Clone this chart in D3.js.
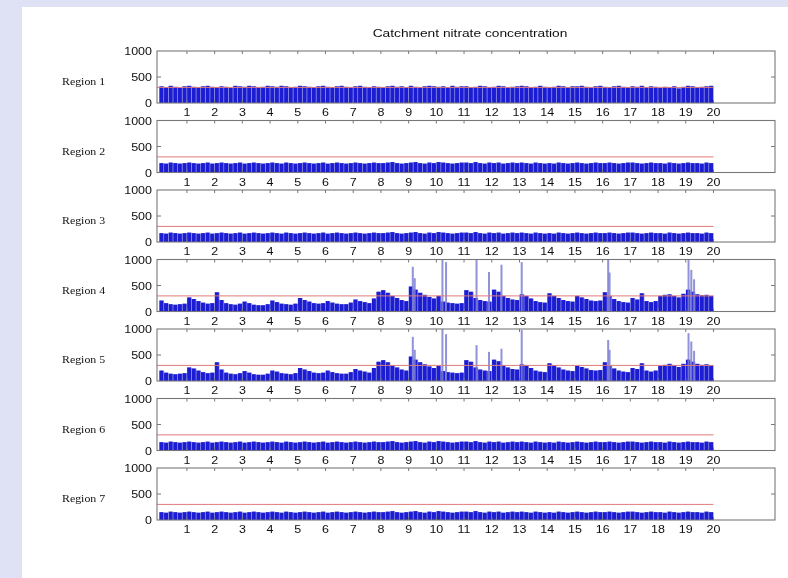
<!DOCTYPE html>
<html>
<head>
<meta charset="utf-8">
<script src="https://cdn.jsdelivr.net/npm/d3@7"></script>
<style>
    body { margin: 0; background: #dfe2f4; }
    svg { display: block; }
</style>
</head>
<body>
<div class="cichart"></div>
<script>

// chart data (6 values per year, 20 years)
var regionNames = ["Region 1", "Region 2", "Region 3", "Region 4", "Region 5", "Region 6", "Region 7"];
var xTicks = [1, 2, 3, 4, 5, 6, 7, 8, 9, 10, 11, 12, 13, 14, 15, 16, 17, 18, 19, 20];
var yTicks = [0, 500, 1000];
var limitLine = 300;

var region1 = [
    320, 300, 330, 310, 290, 320, 330, 310, 300, 320, 330, 310, 300, 320, 310, 290, 330, 320, 310, 330, 320, 300, 310, 330,
    320, 310, 330, 320, 300, 310, 330, 320, 310, 300, 320, 330, 310, 300, 320, 330, 310, 300, 320, 330, 310, 300, 320, 310,
    300, 320, 330, 310, 320, 300, 330, 310, 300, 320, 330, 320, 310, 320, 300, 330, 310, 320, 320, 300, 310, 330, 320, 300,
    310, 330, 320, 300, 310, 320, 330, 320, 300, 310, 330, 310, 300, 310, 330, 320, 300, 320, 320, 330, 310, 300, 320, 330,
    310, 300, 320, 330, 310, 300, 320, 310, 330, 300, 320, 310, 290, 310, 300, 320, 280, 310, 330, 320, 300, 310, 320, 330
];
var region2 = [
    180, 170, 190, 180, 170, 180, 190, 180, 170, 180, 190, 170, 180, 190, 180, 170, 180, 190, 170, 180, 190, 180, 170, 180,
    190, 180, 170, 190, 180, 170, 180, 190, 180, 170, 180, 190, 170, 180, 190, 180, 170, 180, 190, 180, 170, 180, 190, 180,
    180, 190, 200, 180, 170, 180, 190, 200, 180, 170, 190, 180, 200, 190, 180, 170, 180, 190, 190, 180, 200, 180, 170, 190,
    180, 190, 170, 180, 190, 180, 190, 180, 170, 190, 180, 170, 180, 170, 190, 180, 170, 180, 190, 180, 170, 180, 190, 180,
    180, 190, 180, 170, 180, 190, 190, 180, 170, 180, 190, 180, 180, 170, 190, 180, 170, 180, 190, 180, 180, 170, 190, 180
];
var region3 = [
    170, 160, 180, 170, 160, 170, 180, 170, 160, 170, 180, 160, 170, 180, 170, 160, 170, 180, 160, 170, 180, 170, 160, 170,
    180, 170, 160, 180, 170, 160, 170, 180, 170, 160, 170, 180, 160, 170, 180, 170, 160, 170, 180, 170, 160, 170, 180, 170,
    170, 180, 190, 170, 160, 170, 180, 190, 170, 160, 180, 170, 190, 180, 170, 160, 170, 180, 180, 170, 190, 170, 160, 180,
    170, 180, 160, 170, 180, 170, 180, 170, 160, 180, 170, 160, 170, 160, 180, 170, 160, 170, 180, 170, 160, 170, 180, 170,
    170, 180, 170, 160, 170, 180, 180, 170, 160, 170, 180, 170, 170, 160, 180, 170, 160, 170, 180, 170, 170, 160, 180, 170
];
var region4 = [
    210, 160, 140, 130, 140, 150, 270, 240, 200, 170, 150, 160, 370, 220, 160, 140, 130, 150, 190, 160, 130, 120, 120, 140,
    210, 180, 150, 140, 130, 150, 260, 220, 190, 160, 150, 160, 200, 170, 150, 140, 140, 170, 230, 200, 180, 160, 250, 380,
    410, 360, 300, 260, 220, 200, 480, 420, 360, 320, 280, 250, 300, 190, 170, 160, 150, 160, 410, 380, 260, 220, 200, 190,
    420, 380, 300, 260, 230, 220, 330, 300, 250, 200, 180, 170, 350, 300, 260, 220, 200, 190, 300, 270, 240, 210, 200, 210,
    370, 300, 240, 200, 180, 170, 260, 230, 350, 200, 180, 200, 300, 320, 330, 300, 270, 340, 420, 380, 330, 310, 320, 300
];
var region5 = [
    200, 160, 140, 130, 140, 150, 260, 240, 200, 170, 150, 160, 360, 220, 160, 140, 130, 150, 190, 160, 130, 120, 120, 140,
    200, 180, 150, 140, 130, 150, 250, 220, 190, 160, 150, 160, 200, 170, 150, 140, 140, 170, 230, 200, 180, 160, 250, 370,
    400, 360, 300, 260, 220, 200, 470, 410, 360, 320, 280, 250, 290, 190, 170, 160, 150, 160, 400, 370, 260, 220, 200, 190,
    410, 380, 300, 260, 230, 220, 320, 300, 250, 200, 180, 170, 340, 300, 260, 220, 200, 190, 290, 270, 240, 210, 200, 210,
    360, 300, 240, 200, 180, 170, 250, 230, 340, 200, 180, 200, 290, 310, 330, 300, 270, 330, 410, 370, 330, 310, 320, 300
];
var region6 = [
    160, 150, 170, 160, 150, 160, 170, 160, 150, 160, 170, 150, 160, 170, 160, 150, 160, 170, 150, 160, 170, 160, 150, 160,
    170, 160, 150, 170, 160, 150, 160, 170, 160, 150, 160, 170, 150, 160, 170, 160, 150, 160, 170, 160, 150, 160, 170, 160,
    160, 170, 180, 160, 150, 160, 170, 180, 160, 150, 170, 160, 180, 170, 160, 150, 160, 170, 170, 160, 180, 160, 150, 170,
    160, 170, 150, 160, 170, 160, 170, 160, 150, 170, 160, 150, 160, 150, 170, 160, 150, 160, 170, 160, 150, 160, 170, 160,
    160, 170, 160, 150, 160, 170, 170, 160, 150, 160, 170, 160, 160, 150, 170, 160, 150, 160, 170, 160, 160, 150, 170, 160
];
var region7 = [
    150, 140, 160, 150, 140, 150, 160, 150, 140, 150, 160, 140, 150, 160, 150, 140, 150, 160, 140, 150, 160, 150, 140, 150,
    160, 150, 140, 160, 150, 140, 150, 160, 150, 140, 150, 160, 140, 150, 160, 150, 140, 150, 160, 150, 140, 150, 160, 150,
    150, 160, 170, 150, 140, 150, 160, 170, 150, 140, 160, 150, 170, 160, 150, 140, 150, 160, 160, 150, 170, 150, 140, 160,
    150, 160, 140, 150, 160, 150, 160, 150, 140, 160, 150, 140, 150, 140, 160, 150, 140, 150, 160, 150, 140, 150, 160, 150,
    150, 160, 150, 140, 150, 160, 160, 150, 140, 150, 160, 150, 150, 140, 160, 150, 140, 150, 160, 150, 150, 140, 160, 150
];

// short peaks [year, value]
var peaks4 = [[9.15, 860], [9.22, 640], [10.22, 1000], [10.35, 950], [11.45, 1000], [11.9, 760], [12.35, 900],
    [13.08, 950], [16.2, 1000], [16.25, 750], [19.1, 1000], [19.2, 800], [19.3, 620]];
var peaks5 = [[9.15, 850], [9.22, 600], [10.22, 1000], [10.35, 900], [11.45, 690], [11.9, 560], [12.35, 620],
    [13.08, 980], [16.2, 790], [16.25, 600], [19.1, 920], [19.2, 760], [19.3, 580]];

var regionValues = [region1, region2, region3, region4, region5, region6, region7];
var regionPeaks = [[], [], [], peaks4, peaks5, [], []];
var binsPerYear = 6;

var width = 788, height = 578;
var left = 157, right = 775;
var panelTop = 51, panelStep = 69.5, panelHeight = 52;

var svg = d3.select(".cichart").append("svg")
    .attr("width", width)
    .attr("height", height);

// soft blur, the reference is a low-res scan
var defs = svg.append("defs");
defs.append("filter").attr("id", "soft")
    .attr("x", 0).attr("y", 0).attr("width", 1).attr("height", 1)
    .attr("filterUnits", "userSpaceOnUse")
    .attr("x", 0).attr("y", 0).attr("width", width).attr("height", height)
    .append("feGaussianBlur").attr("stdDeviation", 0.7);

svg.append("rect")
    .attr("x", 22).attr("y", 7)
    .attr("width", width - 22).attr("height", height - 7)
    .attr("fill", "white");

var chart = svg.append("g").attr("filter", "url(#soft)");

var x = d3.scaleLinear().domain([-0.08, 22.22]).range([left, right]);

// stretched text helper
function stretchedText(g, tx, ty, str, size, anchor, family) {
    g.append("text")
        .attr("transform", "translate(" + tx + "," + ty + ") scale(1.25,1)")
        .attr("text-anchor", anchor)
        .style("font-family", family)
        .style("font-size", size + "px")
        .attr("fill", "#111")
        .text(str);
}

// title
stretchedText(chart, 470, 37, "Catchment nitrate concentration", 11, "middle", "Arial, 'Liberation Sans', sans-serif");

regionValues.forEach(function (vals, i) {
    var top = panelTop + i * panelStep;
    var y = d3.scaleLinear().domain([0, 1000]).range([top + panelHeight, top]);
    var g = chart.append("g").attr("class", "panel");
    var bw = x(1 / binsPerYear) - x(0);

    // light underlay
    g.selectAll(".under")
        .data(vals)
        .enter().append("rect")
        .attr("x", function (d, j) { return x(j / binsPerYear); })
        .attr("y", function (d) { return y(d); })
        .attr("width", bw + 0.3)
        .attr("height", function (d) { return y(0) - y(d); })
        .attr("fill", "#9c9ee8");

    // dark bars
    g.selectAll(".bar")
        .data(vals)
        .enter().append("rect")
        .attr("x", function (d, j) { return x(j / binsPerYear) + bw * 0.06; })
        .attr("y", function (d) { return y(d); })
        .attr("width", bw * 0.84)
        .attr("height", function (d) { return y(0) - y(d); })
        .attr("fill", "#1a1ad2");

    // peaks
    g.selectAll(".peak")
        .data(regionPeaks[i])
        .enter().append("rect")
        .attr("x", function (d) { return x(d[0]) - 1; })
        .attr("y", function (d) { return y(d[1]); })
        .attr("width", 2)
        .attr("height", function (d) { return y(0) - y(d[1]); })
        .attr("fill", "#7d80d2")
        .attr("fill-opacity", 0.85);

    // limit line
    g.append("line")
        .attr("x1", left).attr("x2", x(vals.length / binsPerYear))
        .attr("y1", y(limitLine)).attr("y2", y(limitLine))
        .attr("stroke", "#e07a7a")
        .attr("stroke-width", 1);

    // box
    g.append("rect")
        .attr("x", left).attr("y", top)
        .attr("width", right - left).attr("height", panelHeight)
        .attr("fill", "none")
        .attr("stroke", "#777")
        .attr("stroke-width", 1.1);

    // x ticks top and bottom
    g.selectAll(".xt")
        .data(xTicks)
        .enter().append("path")
        .attr("d", function (d) {
            return "M" + x(d) + "," + top + "v3M" + x(d) + "," + (top + panelHeight) + "v-3";
        })
        .attr("stroke", "#777");

    // y tick at 500 on both sides
    g.append("path")
        .attr("d", "M" + left + "," + y(500) + "h4M" + right + "," + y(500) + "h-4")
        .attr("stroke", "#777");

    xTicks.forEach(function (t) {
        stretchedText(g, x(t), top + panelHeight + 13, String(t), 10, "middle", "Arial, 'Liberation Sans', sans-serif");
    });
    yTicks.forEach(function (t) {
        stretchedText(g, left - 5, y(t) + 4, String(t), 10, "end", "Arial, 'Liberation Sans', sans-serif");
    });

    stretchedText(g, 62, top + 34, regionNames[i], 9.5, "start", "'Liberation Serif', 'Times New Roman', serif");
});

</script>
</body>
</html>
